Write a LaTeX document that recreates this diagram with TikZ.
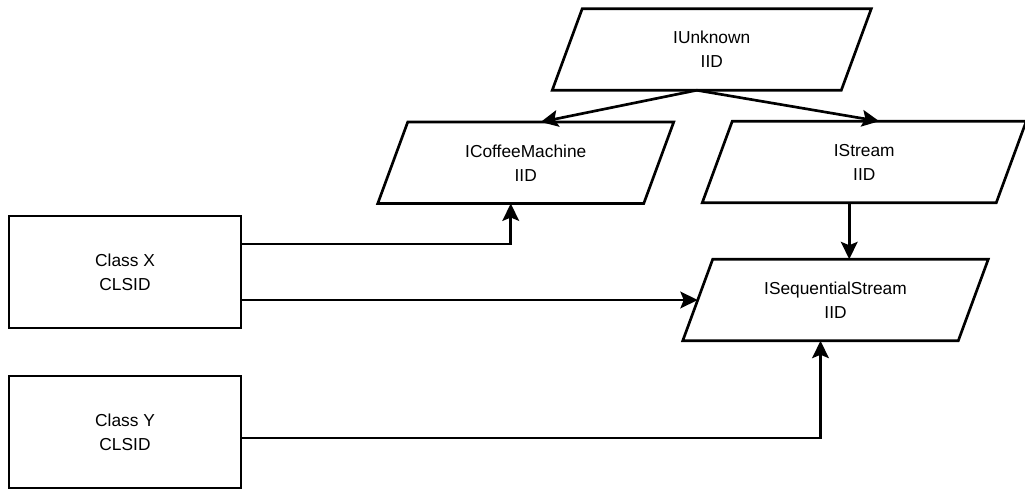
\documentclass[tikz,border=0pt]{standalone}
\usepackage{fontspec}
\setmainfont{Liberation Sans}
\usetikzlibrary{arrows.meta}
\begin{document}
\begin{tikzpicture}[x=0.75pt,y=-0.75pt,
  ln/.style={line width=2pt, line join=miter},
  arr/.style={ln, -{Stealth[length=13pt,width=12.5pt,inset=2.5pt]}},
  lbl/.style={font=\fontsize{13}{18}\selectfont, align=center, inner sep=0pt},
  para/.style={lbl, minimum height=60.75pt},
  box/.style={lbl, draw, line width=2pt, minimum width=174pt, minimum height=84pt}
]
\useasboundingbox (0,0) rectangle (1025,491);

\node[para, minimum width=216.4pt] (iu) at (711.75,49.5) {IUnknown\\IID};
\node[para, minimum width=199.1pt] (icm) at (525.75,162.75) {ICoffeeMachine\\IID};
\node[para, minimum width=220.1pt] (is) at (864.25,162) {IStream\\IID};
\node[para, minimum width=206.25pt] (iss) at (835.5,300) {ISequentialStream\\IID};
\node[box] (cx) at (125,272) {Class X\\CLSID};
\node[box] (cy) at (125,432) {Class Y\\CLSID};

\foreach \n in {iu,icm,is,iss}
  \draw[ln] ([xshift=11.25pt]\n.north west) -- ([xshift=11.25pt]\n.north east)
    -- ([xshift=-11.25pt]\n.south east) -- ([xshift=-11.25pt]\n.south west) -- cycle;

\draw[arr] ([xshift=-11.25pt]iu.south) -- ([xshift=11.25pt]icm.north);
\draw[arr] ([xshift=-11.25pt]iu.south) -- ([xshift=11.25pt]is.north);
\draw[arr] ([yshift=21pt]cx.east) -| ([xshift=-11.25pt]icm.south);
\draw[arr] ([yshift=-21pt]cx.east) -- (iss.west);
\draw[arr] ([xshift=-11.25pt]is.south) -- ([xshift=-11.25pt]is.south |- iss.north);
\draw[arr] ([yshift=-4.5pt]cy.east) -| ([xshift=-11.25pt]iss.south);
\end{tikzpicture}
\end{document}
